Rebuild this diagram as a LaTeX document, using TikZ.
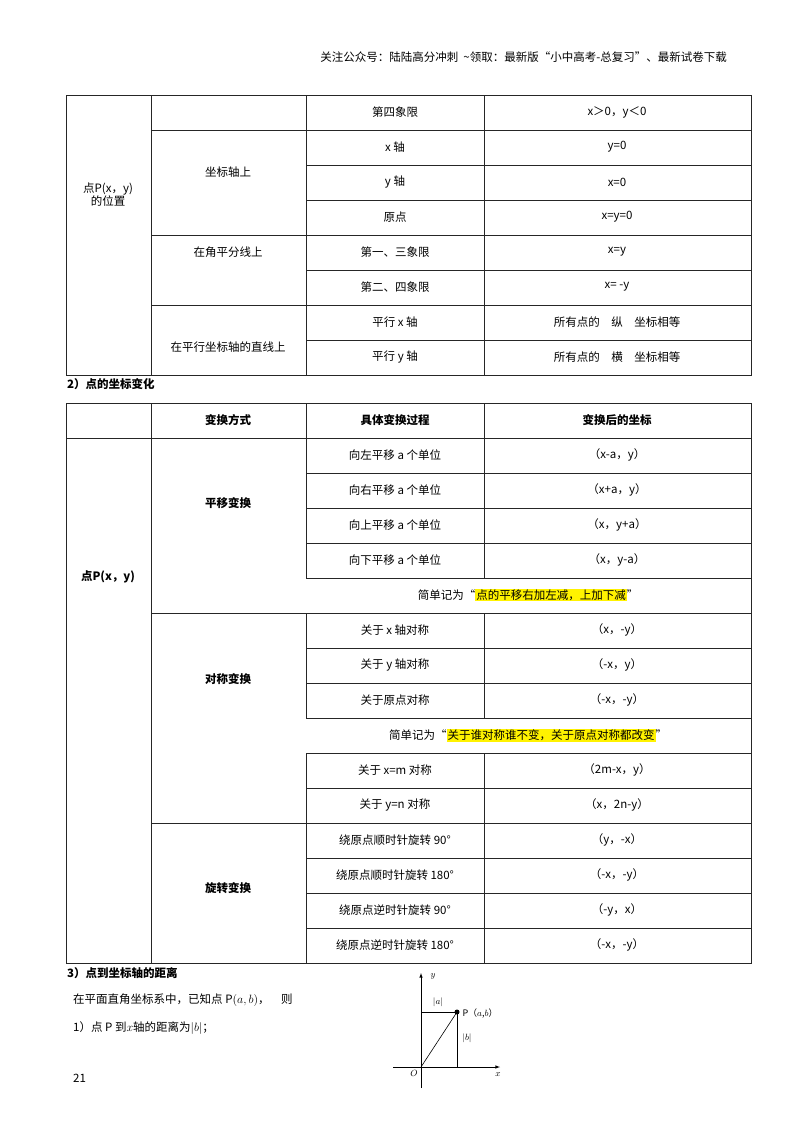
\documentclass[tikz,border=0pt]{standalone}
\usepackage{fontspec}
\setmainfont{Noto Sans CJK SC}
\begin{document}
\begin{tikzpicture}[x=1pt,y=-1pt,
  ln/.style={line width=0.7pt,black!85},
  t/.style={font=\fontsize{11.5}{13}\selectfont,inner sep=1pt},
  b/.style={t,font=\fontsize{11.5}{13}\selectfont\bfseries},
  hl/.style={fill=yellow,inner sep=1pt}]
\setlength{\fboxsep}{1pt}
\useasboundingbox (0,0) rectangle (800,1132);
\node[t,anchor=east] (hdr) at (728,57) {关注公众号：陆陆高分冲刺 \ \textasciitilde 领取：最新版“小中高考-总复习”、最新试卷下载};
% table 1
\draw[ln] (66,95) rectangle (751,375);
\foreach \x in {151,306,484} \draw[ln] (\x,95) -- (\x,375);
\draw[ln] (151,130) -- (751,130);
\foreach \y in {165,200,270,340} \draw[ln] (306,\y) -- (751,\y);
\foreach \y in {235,305} \draw[ln] (151,\y) -- (751,\y);
\node[t,align=center] (p1) at (108,195) {点P(x，y)\\的位置};
\node[t] (c1) at (228,172) {坐标轴上};
\node[t] (c2) at (228,252) {在角平分线上};
\node[t] (c3) at (228,347) {在平行坐标轴的直线上};
\foreach \y/\a/\b in {112/第四象限/{x＞0，y＜0},147/x 轴/y=0,182/y 轴/x=0,217/原点/x=y=0,252/{第一、三象限}/x=y,287/{第二、四象限}/{x= -y},322/平行 x 轴/{所有点的\quad 纵\quad 坐标相等},357/平行 y 轴/{所有点的\quad 横\quad 坐标相等}}
 {\node[t] at (395,\y) {\a}; \node[t] at (617,\y) {\b};}
\node[b,anchor=west] (s2) at (66,384) {2）点的坐标变化};
% table 2
\draw[ln] (66,403) rectangle (751,963);
\draw[ln] (66,438) -- (751,438);
\draw[ln] (151,403) -- (151,963);
\foreach \y in {613,823} \draw[ln] (151,\y) -- (751,\y);
\foreach \y in {473,508,543,578,648,683,718,753,788,858,893,928} \draw[ln] (306,\y) -- (751,\y);
\draw[ln] (306,403) -- (306,578); \draw[ln] (484,403) -- (484,578);
\draw[ln] (306,613) -- (306,718); \draw[ln] (484,613) -- (484,718);
\draw[ln] (306,753) -- (306,963); \draw[ln] (484,753) -- (484,963);
\node[b] at (228,420) {变换方式};
\node[b] at (395,420) {具体变换过程};
\node[b] at (617,420) {变换后的坐标};
\node[b] (pp) at (108,577) {点P(x，y)};
\node[b] at (228,503) {平移变换};
\node[b] at (228,679) {对称变换};
\node[b] at (228,888) {旋转变换};
\foreach \y/\a/\b in {455/向左平移 a 个单位/{（x-a，y）},490/向右平移 a 个单位/{（x+a，y）},525/向上平移 a 个单位/{（x，y+a）},560/向下平移 a 个单位/{（x，y-a）},630/关于 x 轴对称/{（x，-y）},665/关于 y 轴对称/{（-x，y）},700/关于原点对称/{（-x，-y）},770/关于 x=m 对称/{（2m-x，y）},805/关于 y=n 对称/{（x，2n-y）},840/绕原点顺时针旋转 90°/{（y，-x）},875/绕原点顺时针旋转 180°/{（-x，-y）},910/绕原点逆时针旋转 90°/{（-y，x）},945/绕原点逆时针旋转 180°/{（-x，-y）}}
 {\node[t] at (395,\y) {\a}; \node[t] at (617,\y) {\b};}
\node[t] at (528,595) {简单记为“\colorbox{yellow}{点的平移右加左减，上加下减}”};
\node[t] at (528,735) {简单记为“\colorbox{yellow}{关于谁对称谁不变，关于原点对称都改变}”};
% section 3
\node[b,anchor=west] (s3) at (66,973) {3）点到坐标轴的距离};
\node[t,anchor=west] at (72,1000) {在平面直角坐标系中，已知点 P$\left(a,b\right)$，\quad 则};
\node[t,anchor=west] at (72,1028) {1）点 P 到$x$轴的距离为$\left|b\right|$；};
\node[t,anchor=west] at (72,1078) {21};
% graph
\coordinate (O) at (421,1067);
\coordinate (P) at (457,1012);
\draw[line width=0.6pt,-latex] (421,1088) -- (421,973);
\draw[line width=0.6pt,-latex] (393,1067) -- (500,1067);
\draw[line width=0.6pt] (421,1012) -- (P) -- (457,1067);
\draw[line width=0.6pt] (O) -- (P);
\fill (P) circle (2.5);
\node[font=\fontsize{9}{10}\selectfont] at (433,976) {$y$};
\node[font=\fontsize{9}{10}\selectfont] at (438,1002) {$|a|$};
\node[font=\fontsize{9}{10}\selectfont] at (467,1038) {$|b|$};
\node[font=\fontsize{9}{10}\selectfont,anchor=west] at (459,1013) {P（$a$,$b$）};
\node[font=\fontsize{9}{10}\selectfont] at (414,1073) {$O$};
\node[font=\fontsize{9}{10}\selectfont] at (498,1075) {$x$};
\end{tikzpicture}
\end{document}
